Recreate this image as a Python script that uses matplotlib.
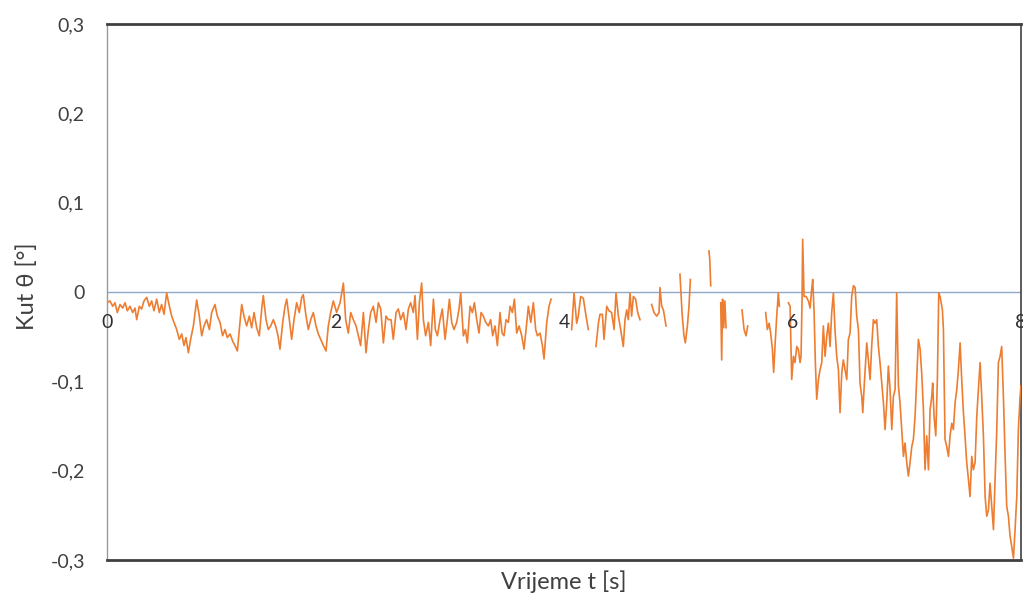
import numpy as np
import matplotlib
matplotlib.use("Agg")
import matplotlib.pyplot as plt
import matplotlib.transforms as mtransforms

nan = float("nan")

# time [s] and angle [deg]; nan marks gaps in the recorded series
t_values = [
    0.000, 0.026, 0.050, 0.070, 0.090, 0.114, 0.137, 0.158, 0.178, 0.201, 0.225, 0.245, 0.260, 0.283, 0.303,
    0.324, 0.347, 0.371, 0.391, 0.411, 0.435, 0.458, 0.478, 0.499, 0.522, 0.546, 0.566, 0.586, 0.610, 0.633,
    0.654, 0.674, 0.691, 0.712, 0.732, 0.756, 0.785, 0.808, 0.829, 0.849, 0.872, 0.896, 0.916, 0.945, 0.966,
    0.989, 1.012, 1.033, 1.053, 1.077, 1.100, 1.120, 1.141, 1.158, 1.179, 1.199, 1.222, 1.246, 1.266, 1.287,
    1.310, 1.333, 1.354, 1.368, 1.392, 1.412, 1.433, 1.456, 1.476, 1.497, 1.514, 1.538, 1.558, 1.573, 1.596,
    1.616, 1.637, 1.660, 1.683, 1.704, 1.718, 1.742, 1.762, 1.783, 1.806, 1.829, 1.850, 1.870, 1.894, 1.917,
    1.937, 1.958,
    1.981, 2.010, 2.040, 2.069, 2.089, 2.112, 2.133, 2.156, 2.180, 2.200, 2.220, 2.244, 2.267, 2.288, 2.308,
    2.331, 2.355, 2.375, 2.396, 2.419, 2.442, 2.463, 2.486, 2.506, 2.530, 2.550, 2.571, 2.594, 2.617, 2.638,
    2.658, 2.681, 2.696, 2.717, 2.734, 2.754, 2.769, 2.789, 2.813, 2.833, 2.857, 2.874, 2.892, 2.915, 2.935,
    2.959, 2.979, 2.997, 3.017, 3.037, 3.061, 3.081, 3.096, 3.119, 3.137, 3.154, 3.178, 3.198, 3.216, 3.236,
    3.256, 3.274, 3.294, 3.315, 3.338, 3.358, 3.376, 3.396, 3.417, 3.440, 3.458, 3.475, 3.493, 3.513, 3.528,
    3.548, 3.566, 3.586, 3.607, 3.630, 3.650, 3.668, 3.688, 3.709, 3.732, 3.752, 3.767, 3.790, 3.811, 3.825,
    3.849, 3.869, 3.887, 3.950,
    4.067, 4.088, 4.111, 4.125, 4.146, 4.169, 4.193, 4.213, 4.250,
    4.280, 4.301, 4.315, 4.336, 4.350, 4.374, 4.394, 4.417, 4.438, 4.455, 4.476, 4.496, 4.519, 4.534, 4.549,
    4.563, 4.578, 4.592, 4.607, 4.627, 4.645, 4.665, 4.700,
    4.767, 4.788, 4.811, 4.832, 4.840, 4.855, 4.870, 4.893, 4.950,
    5.015, 5.033, 5.050, 5.062, 5.080, 5.094, 5.106, 5.200,
    5.269, 5.276, 5.284, 5.320,
    5.372, 5.380, 5.388, 5.398, 5.408, 5.418, 5.500,
    5.558, 5.576, 5.593, 5.608, 5.700,
    5.765, 5.780, 5.795, 5.809, 5.824, 5.835, 5.850, 5.862, 5.876, 5.885, 5.930,
    5.964, 5.979, 5.993, 6.008, 6.022, 6.037, 6.051, 6.066, 6.075, 6.084, 6.089, 6.095, 6.101, 6.119, 6.139,
    6.154, 6.168, 6.177, 6.189, 6.200, 6.212, 6.227, 6.241, 6.256, 6.270, 6.285, 6.300, 6.314, 6.329, 6.343,
    6.358, 6.372, 6.387, 6.402, 6.416, 6.431, 6.445, 6.460, 6.475, 6.489, 6.504, 6.518, 6.533, 6.548, 6.562,
    6.577, 6.591, 6.606, 6.615, 6.629, 6.650, 6.664, 6.679, 6.693, 6.708, 6.723, 6.737, 6.752, 6.766, 6.781,
    6.796, 6.810, 6.825, 6.839, 6.854, 6.869, 6.883, 6.898, 6.912, 6.927, 6.941, 6.956, 6.971, 6.985, 7.000,
    7.014, 7.029, 7.044, 7.058, 7.073, 7.087, 7.102, 7.117, 7.131, 7.146, 7.160, 7.175, 7.190, 7.204, 7.219,
    7.227, 7.239, 7.254, 7.268, 7.280, 7.292, 7.312, 7.321, 7.335, 7.350, 7.365, 7.379, 7.394, 7.408, 7.423,
    7.438, 7.452, 7.467, 7.481, 7.496, 7.510, 7.525, 7.540, 7.554, 7.569, 7.583, 7.598, 7.613, 7.627, 7.642,
    7.656, 7.671, 7.686, 7.700, 7.715, 7.729, 7.744, 7.759, 7.773, 7.788, 7.802, 7.817, 7.831, 7.846, 7.861,
    7.875, 7.890, 7.904, 7.919, 7.934, 7.948, 7.963, 7.977, 7.992, 8.000,
]

theta_values = [
    -0.012, -0.010, -0.016, -0.012, -0.023, -0.014, -0.018, -0.012, -0.021, -0.016, -0.023, -0.018, -0.031, -0.016, -0.019,
    -0.010, -0.006, -0.016, -0.010, -0.021, -0.008, -0.023, -0.014, -0.025, -0.001, -0.016, -0.027, -0.034, -0.042, -0.053,
    -0.047, -0.060, -0.051, -0.068, -0.053, -0.038, -0.009, -0.027, -0.049, -0.038, -0.031, -0.042, -0.023, -0.014, -0.027,
    -0.034, -0.049, -0.042, -0.051, -0.047, -0.055, -0.060, -0.066, -0.042, -0.014, -0.027, -0.038, -0.027, -0.040, -0.023,
    -0.040, -0.049, -0.019, -0.004, -0.031, -0.042, -0.038, -0.031, -0.038, -0.049, -0.064, -0.034, -0.016, -0.008, -0.031,
    -0.053, -0.031, -0.012, -0.023, -0.006, -0.003, -0.027, -0.042, -0.031, -0.023, -0.038, -0.047, -0.053, -0.060, -0.066,
    -0.038, -0.023,
    -0.010, -0.023, -0.012, 0.010, -0.031, -0.046, -0.023, -0.031, -0.038, -0.049, -0.060, -0.023, -0.068, -0.042, -0.023,
    -0.016, -0.034, -0.012, -0.019, -0.057, -0.027, -0.031, -0.031, -0.053, -0.023, -0.019, -0.031, -0.023, -0.042, -0.019,
    -0.012, -0.023, -0.004, -0.053, -0.012, 0.010, -0.031, -0.049, -0.034, -0.060, -0.008, -0.042, -0.049, -0.031, -0.019,
    -0.053, -0.031, -0.008, -0.034, -0.042, -0.034, -0.019, -0.001, -0.049, -0.042, -0.057, -0.016, -0.023, -0.012, -0.031,
    -0.046, -0.023, -0.027, -0.034, -0.038, -0.031, -0.049, -0.038, -0.060, -0.023, -0.046, -0.049, -0.031, -0.034, -0.016,
    -0.023, -0.008, -0.046, -0.038, -0.049, -0.064, -0.042, -0.016, -0.034, -0.012, -0.042, -0.049, -0.046, -0.060, -0.075,
    -0.034, -0.016, -0.008, nan,
    -0.042, -0.001, -0.035, -0.027, -0.005, -0.007, -0.027, -0.042, nan,
    -0.061, -0.035, -0.025, -0.025, -0.053, -0.016, -0.021, -0.023, -0.042, -0.001, -0.027, -0.042, -0.061, -0.031, -0.020,
    -0.031, -0.001, -0.027, -0.005, -0.008, -0.023, -0.031, nan,
    -0.014, -0.023, -0.027, -0.023, 0.005, -0.016, -0.020, -0.038, nan,
    0.020, -0.023, -0.049, -0.057, -0.038, -0.016, 0.014, nan,
    0.046, 0.036, 0.007, nan,
    -0.012, -0.076, -0.008, -0.040, -0.010, -0.040, nan,
    -0.020, -0.042, -0.049, -0.038, nan,
    -0.023, -0.042, -0.035, -0.046, -0.064, -0.090, -0.053, -0.027, -0.001, -0.016, nan,
    -0.012, -0.016, -0.098, -0.072, -0.079, -0.061, -0.064, -0.079, -0.072, -0.005, 0.059, 0.025, -0.005, -0.005, -0.010,
    -0.018, 0.003, 0.014, -0.023, -0.079, -0.120, -0.098, -0.087, -0.079, -0.038, -0.072, -0.049, -0.035, -0.061, -0.023,
    -0.001, -0.042, -0.072, -0.087, -0.135, -0.091, -0.076, -0.087, -0.098, -0.053, -0.046, -0.005, 0.007, 0.005, -0.027,
    -0.042, -0.102, -0.117, -0.135, -0.102, -0.057, -0.076, -0.098, -0.061, -0.031, -0.035, -0.031, -0.061, -0.079, -0.102,
    -0.124, -0.154, -0.124, -0.083, -0.109, -0.154, -0.117, -0.109, -0.001, -0.105, -0.124, -0.154, -0.184, -0.169, -0.191,
    -0.206, -0.191, -0.173, -0.165, -0.139, -0.098, -0.053, -0.064, -0.091, -0.132, -0.199, -0.161, -0.199, -0.132, -0.117,
    -0.102, -0.139, -0.161, -0.098, -0.001, -0.005, -0.020, -0.042, -0.165, -0.173, -0.184, -0.161, -0.147, -0.154, -0.124,
    -0.109, -0.087, -0.057, -0.098, -0.135, -0.161, -0.191, -0.210, -0.229, -0.184, -0.199, -0.191, -0.139, -0.109, -0.079,
    -0.117, -0.161, -0.229, -0.251, -0.244, -0.214, -0.240, -0.266, -0.210, -0.154, -0.079, -0.072, -0.061, -0.117, -0.184,
    -0.240, -0.251, -0.273, -0.285, -0.298, -0.266, -0.229, -0.154, -0.117, -0.105,
]

x_ticks = [0, 2, 4, 6, 8]
x_tick_labels = ["0", "2", "4", "6", "8"]
y_ticks = [-0.3, -0.2, -0.1, 0.0, 0.1, 0.2, 0.3]
y_tick_labels = ["-0,3", "-0,2", "-0,1", "0", "0,1", "0,2", "0,3"]

plt.rcParams["font.family"] = ["Lato", "DejaVu Sans"]

fig = plt.figure(figsize=(10.23, 5.99), dpi=100)
ax = fig.add_axes([107 / 1023, 39 / 599, (1021 - 107) / 1023, (560 - 24) / 599])

ax.plot(t_values, theta_values, color="#ED7D31", linewidth=1.2, zorder=3)
ax.axhline(0, color="#8FA8C8", linewidth=1.0, zorder=2)

ax.set_xlim(0, 8)
ax.set_ylim(-0.3, 0.3)

ax.set_yticks(y_ticks)
ax.set_yticklabels(y_tick_labels, fontsize=14, color="#404040")
ax.tick_params(axis="y", length=0, pad=16)
ax.set_xticks([])

offset = mtransforms.ScaledTranslation(0, -30 / 100, fig.dpi_scale_trans)
for xt, lab in zip(x_ticks, x_tick_labels):
    ax.text(xt, 0, lab, ha="center", va="center", fontsize=14, color="#303030",
            transform=ax.transData + offset, zorder=4, clip_on=False)

for side in ["top", "bottom"]:
    ax.spines[side].set_color("#404040")
    ax.spines[side].set_linewidth(2.0)
ax.spines["left"].set_color("#9a9a9a")
ax.spines["left"].set_linewidth(1.0)
ax.spines["right"].set_color("#404040")
ax.spines["right"].set_linewidth(1.2)

ax.set_xlabel("Vrijeme t [s]", fontsize=17, color="#404040")
ax.xaxis.set_label_coords(0.5, -0.041)
ax.xaxis.label.set_va("center")
ax.set_ylabel("Kut θ [°]", fontsize=17, color="#404040")
ax.yaxis.set_label_coords(-0.087, 0.51)
ax.yaxis.label.set_va("center")

fig.savefig("out.png", dpi=100)
